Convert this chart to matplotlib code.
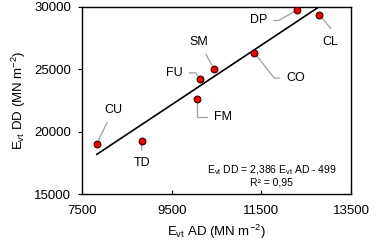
import matplotlib
matplotlib.use("Agg")
import matplotlib.pyplot as plt
import numpy as np

plt.rcParams['font.family'] = ['Liberation Sans', 'DejaVu Sans']
plt.rcParams['mathtext.fontset'] = 'custom'
plt.rcParams['mathtext.rm'] = 'Liberation Sans'

labels = ["CU", "TD", "FU", "SM", "FM", "CO", "DP", "CL"]
ad = [7830, 8830, 10120, 10440, 10070, 11340, 12300, 12790]
dd = [19040, 19230, 24230, 25030, 22620, 26340, 29770, 29370]
label_x = [8190, 8830, 9550, 10110, 10640, 12260, 11430, 13040]
label_y = [21740, 17490, 24710, 27200, 21150, 24290, 28910, 27220]
slope, intercept = 2.386, -499
xticks = [7500, 9500, 11500, 13500]
yticks = [15000, 20000, 25000, 30000]

# leader line shapes (connection style from label to point)
conn = {
    "CU": "arc3,rad=0",
    "TD": "arc3,rad=0",
    "FU": "angle,angleA=0,angleB=120,rad=0",
    "SM": "arc3,rad=0",
    "FM": "angle,angleA=0,angleB=90,rad=0",
    "CO": "angle,angleA=0,angleB=-52,rad=0",
    "DP": "angle,angleA=0,angleB=30,rad=0",
    "CL": "angle,angleA=90,angleB=-50,rad=0",
}

fig = plt.figure(figsize=(3.78, 2.46), dpi=100)
ax = fig.add_axes([0.217, 0.211, 0.712, 0.761])

xl = np.array([min(ad), max(ad)])
ax.plot(xl, slope * xl + intercept, color='black', lw=1.2, zorder=2)

for lab, x, y, tx, ty in zip(labels, ad, dd, label_x, label_y):
    ax.annotate(lab, xy=(x, y), xytext=(tx, ty), textcoords='data',
                ha='center', va='center', fontsize=9,
                arrowprops=dict(arrowstyle='-', color='#a6a6a6', lw=1.0,
                                shrinkA=3, shrinkB=3,
                                connectionstyle=conn[lab]))

ax.scatter(ad, dd, s=24, color='#ee0000', edgecolor='#3a0000', linewidth=0.8, zorder=3)

ax.set_xlim(7500, 13500)
ax.set_ylim(15000, 30000)
ax.set_xticks(xticks)
ax.set_yticks(yticks)
ax.tick_params(axis='x', direction='in', length=3, labelsize=9.5, pad=8)
ax.tick_params(axis='y', direction='out', length=3, labelsize=9.5, pad=5)
for s in ax.spines.values():
    s.set_linewidth(1.0)

ax.set_xlabel(r'E$_{\mathrm{vt}}$ AD (MN m$^{-2}$)', fontsize=9.5, labelpad=4)
ax.set_ylabel(r'E$_{\mathrm{vt}}$ DD (MN m$^{-2}$)', fontsize=9.5, labelpad=4)

ax.text(0.705, 0.098, r'E$_{\mathrm{vt}}$ DD = 2,386 E$_{\mathrm{vt}}$ AD - 499' + '\nR² = 0,95',
        transform=ax.transAxes, ha='center', va='center', fontsize=7.5, linespacing=1.05)

fig.savefig('out.png', dpi=100)
